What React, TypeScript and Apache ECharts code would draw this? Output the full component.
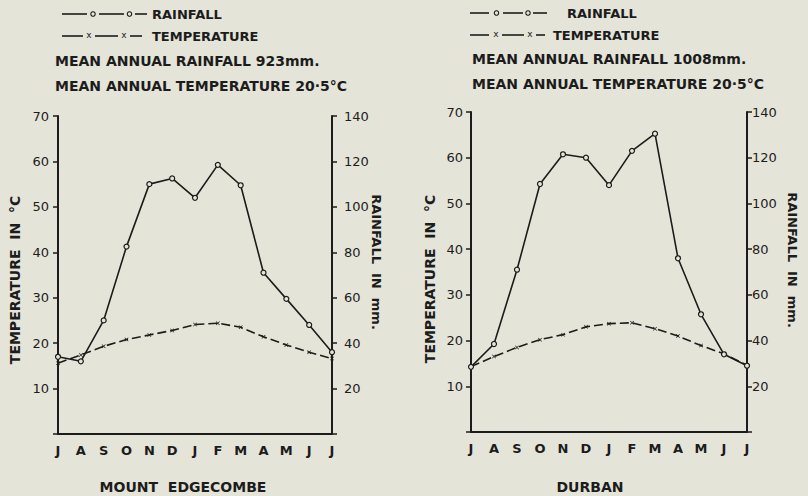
import React, { useEffect, useRef } from 'react';
import * as echarts from 'echarts';

// ---- data ----
const months = ['J', 'A', 'S', 'O', 'N', 'D', 'J', 'F', 'M', 'A', 'M', 'J', 'J'];
const edgecombeRain = [34, 32, 50, 82.5, 110, 112.5, 104, 118.5, 109.5, 71, 59.5, 48, 36];
const edgecombeTemp = [15.6, 17.4, 19.3, 20.8, 21.8, 22.8, 24.1, 24.4, 23.5, 21.4, 19.6, 18.0, 16.6];
const durbanRain = [28.5, 38.5, 71, 108.5, 121.5, 120, 108, 123, 130.5, 76, 51.5, 34, 29];
const durbanTemp = [14.3, 16.5, 18.5, 20.2, 21.3, 23.0, 23.7, 23.9, 22.6, 21.0, 18.9, 17.1, 14.6];
const tempTicks = { min: 0, max: 70, interval: 10 };
const rainTicks = { min: 0, max: 140, interval: 20 };
const stations = ['MOUNT  EDGECOMBE', 'DURBAN'];
const meanRain = ['923mm.', '1008mm.'];
const meanTemp = ['20·5°C', '20·5°C'];

const INK = '#1c1c1c';
const BG = '#e5e4d8';
const FONT = '"DejaVu Sans", sans-serif';
const XPATH = 'path://M0,1.2L1.2,0L5,3.8L8.8,0L10,1.2L6.2,5L10,8.8L8.8,10L5,6.2L1.2,10L0,8.8L3.8,5Z';

function txt(x: number, y: number, text: string, size: number, opts: any = {}) {
  return {
    type: 'text',
    x,
    y,
    rotation: opts.rotation || 0,
    silent: true,
    style: {
      text,
      fill: INK,
      fontFamily: FONT,
      fontSize: size,
      fontWeight: opts.weight || 'bold',
      align: opts.align || 'left',
      verticalAlign: 'middle',
    },
  };
}

function seg(x1: number, x2: number, y: number) {
  return { type: 'line', silent: true, shape: { x1, y1: y, x2, y2: y }, style: { stroke: INK, lineWidth: 1.6 } };
}
function circ(cx: number, cy: number) {
  return { type: 'circle', silent: true, shape: { cx, cy, r: 2.2 }, style: { fill: BG, stroke: INK, lineWidth: 1.1 } };
}
function cross(cx: number, cy: number) {
  return txt(cx, cy, 'x', 9, { align: 'center', weight: 'normal' });
}

type HeaderSpec = {
  rainSegs: number[][]; rainDots: number[]; tempSegs: number[][]; tempDots: number[];
  rainText: number; tempText: number; meanX: number; ys: number[]; idx: number;
};
function header(h: HeaderSpec) {
  const [y1, y2, y3, y4] = h.ys;
  return [
    ...h.rainSegs.map((s) => seg(s[0], s[1], y1)),
    ...h.rainDots.map((c) => circ(c, y1)),
    txt(h.rainText, y1, 'RAINFALL', 13),
    ...h.tempSegs.map((s) => seg(s[0], s[1], y2)),
    ...h.tempDots.map((c) => cross(c, y2 - 1)),
    txt(h.tempText, y2, 'TEMPERATURE', 13),
    txt(h.meanX, y3, 'MEAN ANNUAL RAINFALL ' + meanRain[h.idx], 14),
    txt(h.meanX, y4, 'MEAN ANNUAL TEMPERATURE ' + meanTemp[h.idx], 14),
  ];
}

function tempAxis(gridIndex: number, margin: number) {
  return {
    type: 'value', gridIndex, position: 'left', ...tempTicks,
    axisLine: { show: true, onZero: false, lineStyle: { color: INK, width: 2 } },
    axisTick: { show: true, length: 5, lineStyle: { color: INK, width: 1.5 } },
    axisLabel: { color: INK, fontFamily: FONT, fontSize: 13, margin, formatter: (v: number) => (v === 0 ? '' : String(v)) },
    splitLine: { show: false },
  };
}
function rainAxis(gridIndex: number, margin: number) {
  return {
    type: 'value', gridIndex, position: 'right', ...rainTicks,
    axisLine: { show: true, onZero: false, lineStyle: { color: INK, width: 2 } },
    axisTick: { show: true, length: 5, lineStyle: { color: INK, width: 1.5 } },
    axisLabel: { color: INK, fontFamily: FONT, fontSize: 13, margin, formatter: (v: number) => (v === 0 ? '' : String(v)) },
    splitLine: { show: false },
  };
}

function rainSeries(xi: number, yi: number, data: number[]) {
  return {
    type: 'line', xAxisIndex: xi, yAxisIndex: yi, data, symbol: 'circle', symbolSize: 5, z: 4,
    itemStyle: { color: BG, borderColor: INK, borderWidth: 1.2 },
    lineStyle: { color: INK, width: 1.6 },
    emphasis: { disabled: true },
  };
}
function tempSeries(xi: number, yi: number, data: number[]) {
  return {
    type: 'line', xAxisIndex: xi, yAxisIndex: yi, data, symbol: XPATH, symbolSize: 4, z: 3,
    itemStyle: { color: INK },
    lineStyle: { color: INK, width: 1.6, type: [9, 4] },
    emphasis: { disabled: true },
  };
}

export default function App() {
  const ref = useRef<HTMLDivElement>(null);
  useEffect(() => {
    if (!ref.current) return;
    const chart = echarts.init(ref.current, null, { renderer: 'svg' });
    const xAxisBase = (gridIndex: number) => ({
      type: 'category', gridIndex, data: months, boundaryGap: false,
      axisLine: { show: true, onZero: false, lineStyle: { color: INK, width: 2 } },
      axisTick: { show: false },
      axisLabel: { color: INK, fontFamily: FONT, fontSize: 13, fontWeight: 'bold', margin: 10, interval: 0 },
      splitLine: { show: false },
    });
    chart.setOption({
      animation: false,
      backgroundColor: BG,
      grid: [
        { left: 58, top: 116, width: 274, height: 318 },
        { left: 471, top: 112, width: 276, height: 320 },
      ],
      xAxis: [xAxisBase(0), xAxisBase(1)],
      yAxis: [tempAxis(0, 9), rainAxis(0, 12), tempAxis(1, 8), rainAxis(1, 5)],
      series: [
        rainSeries(0, 1, edgecombeRain),
        tempSeries(0, 0, edgecombeTemp),
        rainSeries(1, 3, durbanRain),
        tempSeries(1, 2, durbanTemp),
      ],
      graphic: [
        ...header({
          rainSegs: [[62, 87], [99, 124], [135, 147]], rainDots: [93, 129.5],
          tempSegs: [[62, 83], [95, 118], [130, 142]], tempDots: [89, 124],
          rainText: 152, tempText: 152, meanX: 55, ys: [14, 36, 61, 86], idx: 0,
        }),
        ...header({
          rainSegs: [[470, 489], [503, 523], [533, 547]], rainDots: [496.5, 528],
          tempSegs: [[470, 489], [502, 524], [536, 545]], tempDots: [496, 530],
          rainText: 567, tempText: 553, meanX: 472, ys: [13, 35, 59, 84], idx: 1,
        }),
        txt(15, 280, 'TEMPERATURE  IN  °C', 14, { rotation: Math.PI / 2, align: 'center' }),
        txt(376, 262, 'RAINFALL  IN  mm.', 13, { rotation: -Math.PI / 2, align: 'center' }),
        txt(430, 279, 'TEMPERATURE  IN  °C', 14, { rotation: Math.PI / 2, align: 'center' }),
        txt(792, 260, 'RAINFALL  IN  mm.', 13, { rotation: -Math.PI / 2, align: 'center' }),
        txt(183, 487, stations[0], 14, { align: 'center' }),
        txt(590, 487, stations[1], 14, { align: 'center' }),
      ],
    });
    return () => chart.dispose();
  }, []);
  return <div ref={ref} style={{ position: 'fixed', left: 0, top: 0, width: 808, height: 496 }} />;
}
